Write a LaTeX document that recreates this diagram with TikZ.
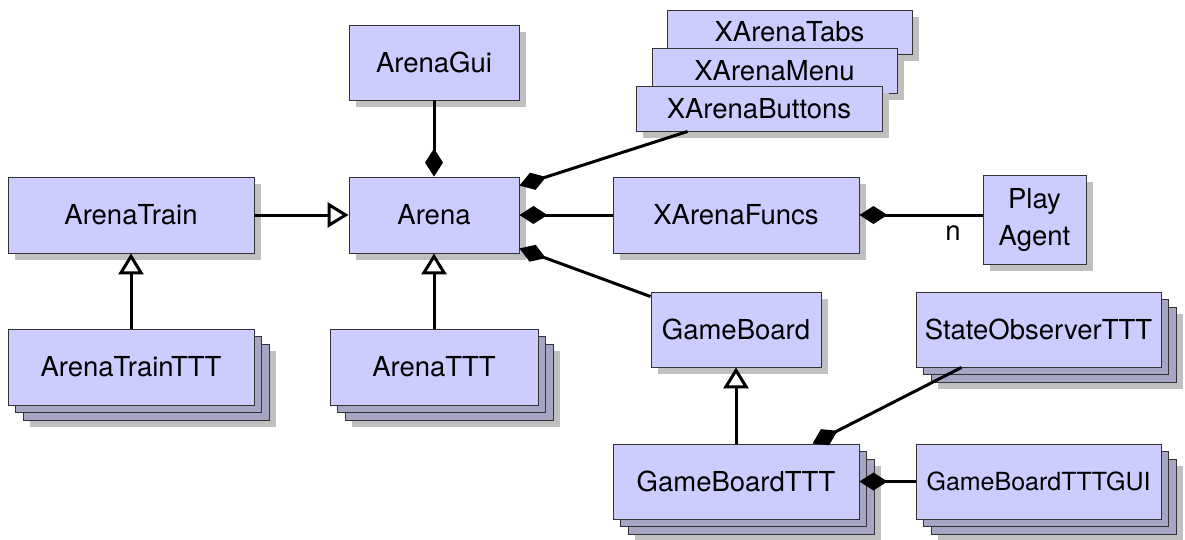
\documentclass[tikz,border=0pt]{standalone}
\usepackage{fontspec}
\setmainfont{TeX Gyre Heros}
\usetikzlibrary{shadows,arrows.meta,calc}
\definecolor{boxfill}{HTML}{CCCCFF}
\definecolor{shadowgray}{HTML}{BFBFBF}
\definecolor{stackfill}{HTML}{A6A6C4}
\definecolor{boxline}{HTML}{333333}
\newcommand\boxfont{\fontsize{27.5}{37}\selectfont}
\newcommand\smallboxfont{\fontsize{25}{30}\selectfont}
\tikzset{
  basebox/.style={draw=boxline, fill=boxfill, line width=0.9pt, inner sep=0pt,
    align=center, font=\boxfont},
  umlbox/.style={basebox,
    general shadow={shadow xshift=7pt, shadow yshift=-7pt, fill=shadowgray}},
  stackbox/.style={basebox,
    general shadow={shadow xshift=22pt, shadow yshift=-22pt, fill=shadowgray},
    general shadow={shadow xshift=15pt, shadow yshift=-15pt, fill=stackfill, draw=boxline, line width=0.9pt},
    general shadow={shadow xshift=7.5pt, shadow yshift=-7.5pt, fill=stackfill, draw=boxline, line width=0.9pt}},
  comp/.style={line width=3pt, -{Diamond[length=28pt,width=18pt]}},
  inh/.style={line width=3pt, -{Triangle[open,length=21pt,width=25pt,fill=white]}},
  lbl/.style={font=\boxfont, inner sep=0pt}
}
\begin{document}
\begin{tikzpicture}[x=1pt,y=-1pt]
\useasboundingbox (0,0) rectangle (1185,540);
% boxes
\node[umlbox, minimum width=170, minimum height=75] (ga) at (434,62.5) {ArenaGui};
\node[umlbox, minimum width=170, minimum height=76] (arena) at (434,215) {Arena};
\node[umlbox, minimum width=246, minimum height=76] (at) at (131,215) {ArenaTrain};
\node[stackbox, minimum width=246, minimum height=76] (att) at (131,367) {ArenaTrainTTT};
\node[stackbox, minimum width=208, minimum height=76] (arttt) at (434,367) {ArenaTTT};
\node[umlbox, minimum width=246, minimum height=76] (xaf) at (736,215) {XArenaFuncs};
\node[umlbox, minimum width=103, minimum height=89] (pa) at (1034.5,219.5) {Play\\Agent};
\node[umlbox, minimum width=245, minimum height=44] (xat) at (789.5,32) {XArenaTabs};
\node[umlbox, minimum width=245, minimum height=45] (xam) at (774.5,70.5) {XArenaMenu};
\node[umlbox, minimum width=246, minimum height=45] (xab) at (759,108.5) {XArenaButtons};
\node[umlbox, minimum width=170, minimum height=75] (gb) at (736,329.5) {GameBoard};
\node[stackbox, minimum width=245, minimum height=75] (sot) at (1038.5,329.5) {StateObserverTTT};
\node[stackbox, minimum width=246, minimum height=75] (gbt) at (736,481.5) {GameBoardTTT};
\node[stackbox, minimum width=245, minimum height=75, font=\smallboxfont] (gbg) at (1038.5,481.5) {GameBoardTTTGUI};
% connectors
\draw[comp] (ga.south) -- (arena.north);
\draw[comp] ($(xab.south west)+(52,0)$) -- ($(arena.north east)+(0,9)$);
\draw[comp] (xaf.west) -- (arena.east);
\draw[comp] ($(gb.north west)+(0,5)$) -- ($(arena.south east)+(0,-5)$);
\draw[inh] (at.east) -- (arena.west);
\draw[inh] (att.north) -- (at.south);
\draw[inh] (arttt.north) -- (arena.south);
\draw[comp] (pa.west |- xaf.east) -- (xaf.east);
\node[lbl] (nlab) at (953,233) {n};
\draw[inh] (gbt.north) -- (gb.south);
\draw[comp] ($(sot.south west)+(46,0)$) -- ($(gbt.north west)+(200,0)$);
\draw[comp] (gbg.west) -- (gbt.east);
\end{tikzpicture}
\end{document}
